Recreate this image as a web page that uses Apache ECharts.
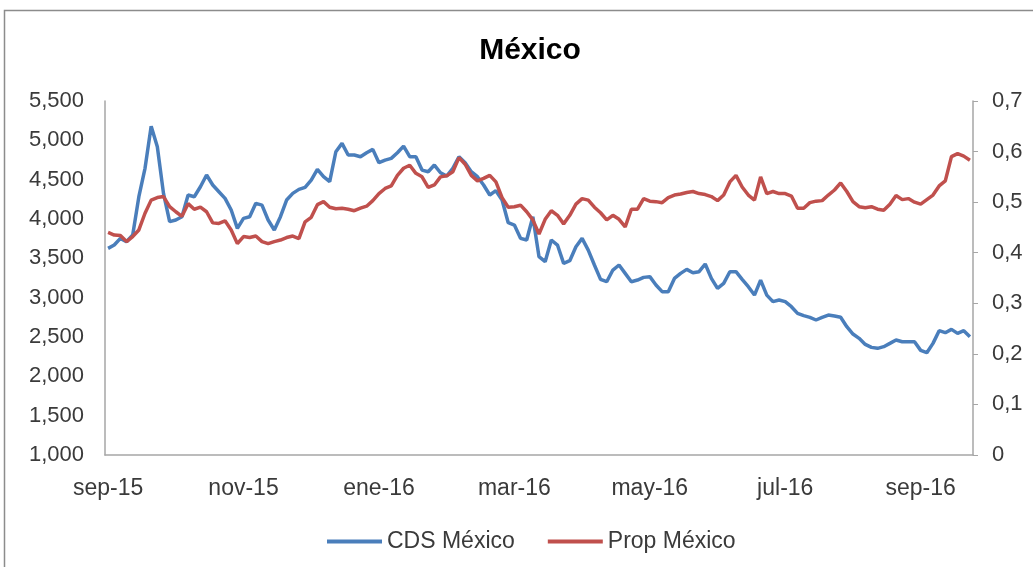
<!DOCTYPE html>
<html>
<head>
<meta charset="utf-8">
<script src="https://cdn.jsdelivr.net/npm/echarts@6/dist/echarts.min.js"></script>
<style>
html,body{margin:0;padding:0;background:#fff;}
#c{width:1033px;height:567px;}
</style>
</head>
<body>
<div id="c"></div>
<script>
// Spanish month abbreviations for tick labels
const monthNames = ['ene','feb','mar','abr','may','jun','jul','ago','sep','oct','nov','dic'];
// Category dates: every 2nd business day from 2015-09-01 (141 points)
const startDate = '2015-09-01';
const nPoints = 141;
const dates = [];
(function(){
  const d = new Date(startDate + 'T00:00:00Z');
  let bd = 0;
  while (dates.length < nPoints) {
    const wd = d.getUTCDay();
    if (wd !== 0 && wd !== 6) {
      if (bd % 2 === 0) dates.push(d.toISOString().slice(0,10));
      bd++;
    }
    d.setUTCDate(d.getUTCDate() + 1);
  }
})();

const cdsMexico = [
3627,3669,3754,3711,3796,4283,4644,5180,4919,4326,
3966,3987,4029,4305,4283,4410,4559,4432,4347,4262,
4114,3881,4008,4029,4199,4177,3987,3860,
4029,4241,4326,4377,4402,4495,4631,4538,4474,4855,
4961,4813,4813,4792,4843,4885,4716,4749,4771,4843,
4927,4792,4792,4622,4601,4686,4588,
4546,4644,4792,4716,4601,4538,4432,4305,4360,4241,
3953,3923,3754,3733,4029,3521,3457,3733,3669,3436,
3470,3648,3754,3605,3415,3233,3203,3351,
3415,3309,3203,3224,3258,3267,3161,3076,3076,3245,
3309,3360,3317,3330,3428,3245,3118,3182,3330,3330,
3233,3139,3033,3224,3033,2949,2970,2949,
2885,2800,2771,2750,2716,2750,2779,2767,2750,2631,
2538,2483,2406,2368,2356,2377,2419,2462,2440,2440,
2440,2330,2300,2419,2580,2555,2597,2546,2580,2504
];

const propMexico = [
0.440,0.435,0.434,0.422,0.432,0.445,0.478,0.504,0.509,0.511,
0.491,0.481,0.472,0.497,0.486,0.490,0.481,0.459,0.458,0.463,
0.445,0.418,0.432,0.430,0.433,0.422,0.418,0.422,
0.425,0.430,0.433,0.428,0.461,0.470,0.495,0.501,0.490,0.487,
0.488,0.486,0.483,0.488,0.492,0.503,0.517,0.527,0.532,0.553,
0.567,0.573,0.557,0.550,0.529,0.534,0.550,
0.552,0.560,0.588,0.575,0.553,0.542,0.547,0.553,0.540,0.509,
0.490,0.491,0.494,0.481,0.465,0.437,0.466,0.483,0.474,0.457,
0.474,0.496,0.507,0.504,0.490,0.479,0.465,0.474,
0.466,0.451,0.486,0.486,0.507,0.502,0.501,0.499,0.509,0.514,
0.516,0.519,0.521,0.517,0.515,0.511,0.503,0.514,0.540,0.553,
0.530,0.514,0.504,0.550,0.517,0.521,0.517,0.517,
0.512,0.488,0.488,0.499,0.502,0.503,0.514,0.524,0.538,0.521,
0.501,0.491,0.489,0.491,0.486,0.484,0.496,0.513,0.505,0.507,
0.500,0.496,0.505,0.514,0.532,0.542,0.590,0.596,0.591,0.583
];

const chart = echarts.init(document.getElementById('c'), null, {renderer:'canvas'});
const FONT = '"Liberation Sans", Arial, sans-serif';
const axisGray = '#a6a6a6';
const labelColor = '#3a3a3a';

chart.setOption({
  animation: false,
  backgroundColor: '#ffffff',
  textStyle: {fontFamily: FONT},
  graphic: [{
    type: 'rect', silent: true, z: -10,
    shape: {x: 4.5, y: 10.5, width: 1200, height: 800},
    style: {fill: 'none', stroke: '#8c8c8c', lineWidth: 1.5}
  }],
  title: {
    text: 'México',
    left: 525, top: 31, textAlign: 'center',
    textStyle: {fontFamily: FONT, fontSize: 30, fontWeight: 'bold', color: '#000'}
  },
  legend: {
    left: 322, top: 525,
    itemWidth: 55, itemHeight: 4, itemGap: 33,
    icon: 'rect',
    textStyle: {fontFamily: FONT, fontSize: 23, color: labelColor},
    data: ['CDS México', 'Prop México']
  },
  grid: {left: 105, right: 60, top: 101, bottom: 112, containLabel: false},
  xAxis: {
    type: 'category',
    data: dates,
    boundaryGap: true,
    axisLine: {show: true, lineStyle: {color: axisGray, width: 1.5}},
    axisTick: {show: false},
    axisLabel: {
      interval: 21,
      margin: 22,
      fontFamily: FONT, fontSize: 23, color: labelColor,
      formatter: function (v) {
        const m = parseInt(v.slice(5,7), 10) - 1;
        return monthNames[m] + '-' + v.slice(2,4);
      }
    },
    splitLine: {show: false}
  },
  yAxis: [{
    type: 'value', position: 'left',
    min: 1000, max: 5500, interval: 500,
    axisLine: {show: true, lineStyle: {color: axisGray, width: 1.5}},
    axisTick: {show: false},
    splitLine: {show: false},
    axisLabel: {
      margin: 21, fontFamily: FONT, fontSize: 22, color: labelColor,
      formatter: function (v) { return String(Math.round(v)).replace(/\B(?=(\d{3})+(?!\d))/g, ','); }
    }
  }, {
    type: 'value', position: 'right',
    min: 0, max: 0.7, interval: 0.1,
    axisLine: {show: true, lineStyle: {color: axisGray, width: 1.5}},
    axisTick: {show: true, inside: false, length: 5, lineStyle: {color: axisGray}},
    splitLine: {show: false},
    axisLabel: {
      margin: 19, fontFamily: FONT, fontSize: 22, color: labelColor,
      formatter: function (v) { return v === 0 ? '0' : v.toFixed(1).replace('.', ','); }
    }
  }],
  series: [{
    name: 'CDS México', type: 'line', yAxisIndex: 0,
    data: cdsMexico, showSymbol: false, symbol: 'none',
    lineStyle: {color: '#4a7ebb', width: 3.5},
    itemStyle: {color: '#4a7ebb'}
  }, {
    name: 'Prop México', type: 'line', yAxisIndex: 1,
    data: propMexico, showSymbol: false, symbol: 'none',
    lineStyle: {color: '#c0504d', width: 3.5},
    itemStyle: {color: '#c0504d'}
  }]
});
</script>
</body>
</html>
